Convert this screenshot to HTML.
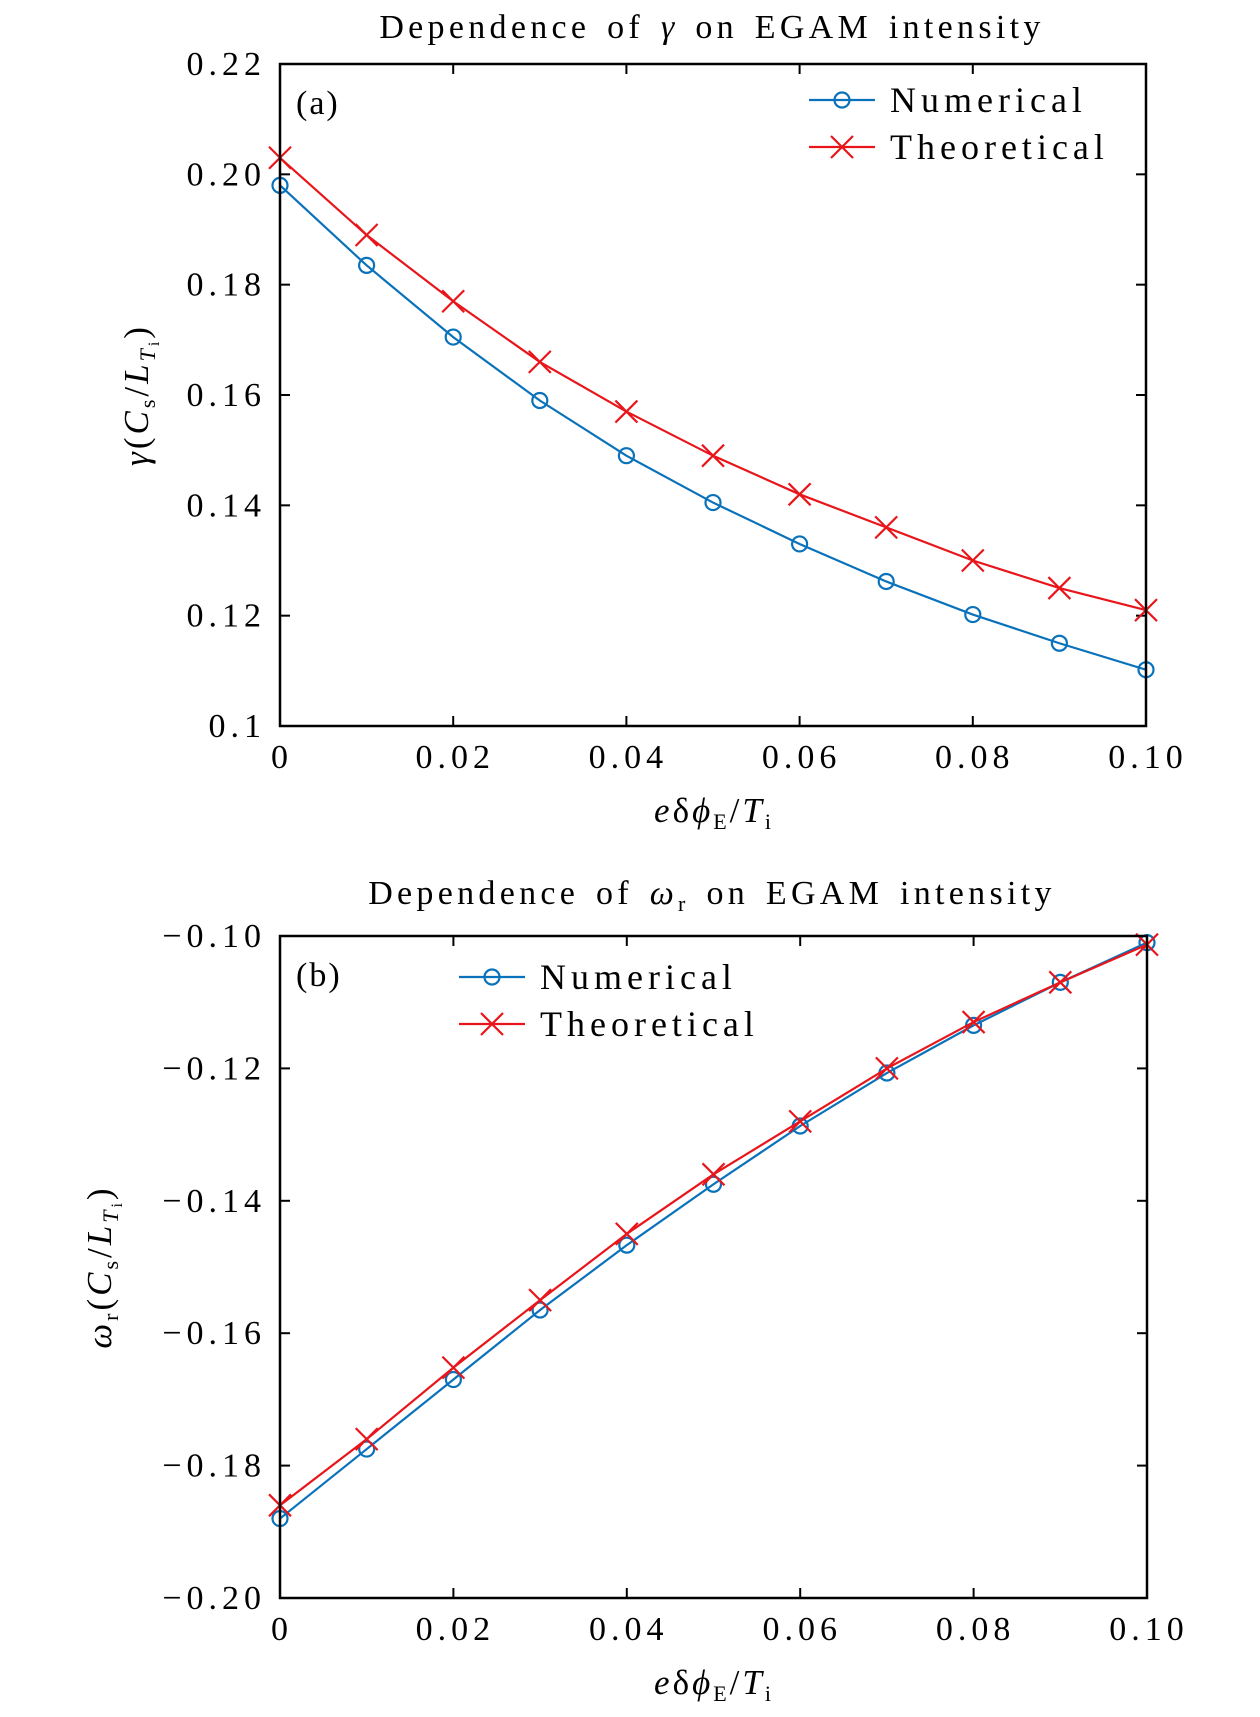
<!DOCTYPE html>
<html><head><meta charset="utf-8"><style>
html,body{margin:0;padding:0;background:#fff}
svg{display:block;font-family:"Liberation Serif","DejaVu Serif",serif}
text{fill:#000}
</style></head><body>
<svg id="fig" width="1260" height="1717" viewBox="0 0 1260 1717" xmlns="http://www.w3.org/2000/svg"></svg>
<script>
const xVals=[0,0.01,0.02,0.03,0.04,0.05,0.06,0.07,0.08,0.09,0.10];
const xTicks=[0,0.02,0.04,0.06,0.08,0.10];
const xTickLabels=["0","0.02","0.04","0.06","0.08","0.10"];
const gammaNum=[0.198,0.1835,0.1705,0.159,0.149,0.1405,0.133,0.1262,0.1202,0.115,0.1102];
const gammaTheo=[0.203,0.189,0.177,0.166,0.157,0.149,0.142,0.136,0.130,0.125,0.121];
const gammaTicks=[0.1,0.12,0.14,0.16,0.18,0.20,0.22];
const gammaTickLabels=["0.1","0.12","0.14","0.16","0.18","0.20","0.22"];
const omegaNum=[-0.188,-0.1775,-0.167,-0.1565,-0.1467,-0.1375,-0.1287,-0.1207,-0.1135,-0.107,-0.101];
const omegaTheo=[-0.186,-0.176,-0.1652,-0.155,-0.145,-0.136,-0.128,-0.120,-0.113,-0.107,-0.1013];
const omegaTicks=[-0.20,-0.18,-0.16,-0.14,-0.12,-0.10];
const omegaTickLabels=["\u22120.20","\u22120.18","\u22120.16","\u22120.14","\u22120.12","\u22120.10"];

const NS="http://www.w3.org/2000/svg";
const svg=document.getElementById('fig');
function mk(tag,attrs,parent,txt){const e=document.createElementNS(NS,tag);for(const k in attrs)e.setAttribute(k,attrs[k]);if(txt!==undefined)e.innerHTML=txt;(parent||svg).appendChild(e);return e;}

function panel(o){
  const g=mk('g',{});
  
  
  const X=v=>o.x0+(v-0)/(0.10-0)*(o.x1-o.x0);
  const Y=v=>o.y1-(v-o.ymin)/(o.ymax-o.ymin)*(o.y1-o.y0);
  const t=mk('text',{x:712,y:o.titleY,'font-size':34,'text-anchor':'middle','letter-spacing':'4.3','word-spacing':'4'},g,o.title);
  
  
  xTicks.forEach((v,i)=>{
    mk('line',{x1:X(v),x2:X(v),y1:o.y1,y2:o.y1-10,stroke:'#000','stroke-width':2},g);
    mk('line',{x1:X(v),x2:X(v),y1:o.y0,y2:o.y0+10,stroke:'#000','stroke-width':2},g);
    const l=mk('text',{x:X(v)+2,y:o.y1+42,'font-size':34,'text-anchor':'middle','letter-spacing':'5'},g,xTickLabels[i]);
    
    
  });
  o.yTicks.forEach((v,i)=>{
    mk('line',{x1:o.x0,x2:o.x0+10,y1:Y(v),y2:Y(v),stroke:'#000','stroke-width':2},g);
    mk('line',{x1:o.x1,x2:o.x1-10,y1:Y(v),y2:Y(v),stroke:'#000','stroke-width':2},g);
    const l=mk('text',{x:o.x0-14,y:Y(v)+11,'font-size':34,'text-anchor':'end','letter-spacing':'5'},g,o.yLabels[i]);
    
    
  });
  const xt=mk('text',{x:714,y:o.y1+96,'font-size':35,'text-anchor':'middle','letter-spacing':'3'},g,'<tspan font-style="italic">e</tspan>δ<tspan font-style="italic">ϕ</tspan><tspan font-size="22" dy="7">E</tspan><tspan dy="-7">/</tspan><tspan font-style="italic">T</tspan><tspan font-size="22" dy="7">i</tspan>');
  
  
  const yt=mk('text',{x:0,y:0,'font-size':35,'text-anchor':'middle','letter-spacing':'3',transform:`translate(${o.ytx},${(o.y0+o.y1)/2}) rotate(-90)`},g,o.ylab);
  
  
  const pl=mk('text',{x:o.x0+16,y:o.y0+50,'font-size':34,'letter-spacing':'2'},g,o.panelLabel);
  
  
  const series=[{vals:o.num,color:'#0a72ba',marker:'o',label:'Numerical'},{vals:o.theo,color:'#e8161b',marker:'x',label:'Theoretical'}];
  series.forEach((s,si)=>{
    const pts=xVals.map((x,i)=>X(x)+','+Y(s.vals[i])).join(' ');
    const line=mk('polyline',{points:pts,fill:'none',stroke:s.color,'stroke-width':2.2},g);
    
    
    xVals.forEach((x,i)=>drawMarker(g,s,X(x),Y(s.vals[i])));
    const ly=o.legY+si*47;
    mk('line',{x1:o.legX,x2:o.legX+66,y1:ly,y2:ly,stroke:s.color,'stroke-width':2.2},g);
    drawMarker(g,s,o.legX+33,ly);
    const lt=mk('text',{x:o.legX+81,y:ly+12,'font-size':36,'letter-spacing':'5'},g,s.label);
    
    
  });
  const fr=mk('rect',{x:o.x0,y:o.y0,width:o.x1-o.x0,height:o.y1-o.y0,fill:'none',stroke:'#000','stroke-width':2.5},g);
  
  
}
function drawMarker(g,s,cx,cy){
  if(s.marker==='o'){
    const c=mk('circle',{cx:cx,cy:cy,r:7.5,fill:'none',stroke:s.color,'stroke-width':2.2},g);
    
    
  }else{
    const p=mk('path',{d:`M${cx-11},${cy-11}L${cx+11},${cy+11}M${cx-11},${cy+11}L${cx+11},${cy-11}`,stroke:s.color,'stroke-width':2.2,fill:'none'},g);
    
    
  }
}
panel({name:'panel-a-gamma',x0:280,x1:1146,y0:64,y1:726,ymin:0.1,ymax:0.22,yTicks:gammaTicks,yLabels:gammaTickLabels,num:gammaNum,theo:gammaTheo,
  title:'Dependence of <tspan font-style="italic">γ</tspan> on EGAM intensity',titleY:38,panelLabel:'(a)',legX:809,legY:100,ytx:148,
  ylab:'<tspan font-style="italic">γ</tspan>(<tspan font-style="italic">C</tspan><tspan font-size="22" dy="7">s</tspan><tspan dy="-7">/</tspan><tspan font-style="italic">L</tspan><tspan font-size="22" font-style="italic" dy="7">T</tspan><tspan font-size="16" dy="4">i</tspan><tspan dy="-11">)</tspan>'});
panel({name:'panel-b-omega',x0:280,x1:1147,y0:936,y1:1598,ymin:-0.20,ymax:-0.10,yTicks:omegaTicks,yLabels:omegaTickLabels,num:omegaNum,theo:omegaTheo,
  title:'Dependence of <tspan font-style="italic">ω</tspan><tspan font-size="22" dy="7">r</tspan><tspan dy="-7"> on EGAM intensity</tspan>',titleY:904,panelLabel:'(b)',legX:459,legY:977,ytx:111,
  ylab:'<tspan font-style="italic">ω</tspan><tspan font-size="22" dy="7">r</tspan><tspan dy="-7">(</tspan><tspan font-style="italic">C</tspan><tspan font-size="22" dy="7">s</tspan><tspan dy="-7">/</tspan><tspan font-style="italic">L</tspan><tspan font-size="22" font-style="italic" dy="7">T</tspan><tspan font-size="16" dy="4">i</tspan><tspan dy="-11">)</tspan>'});
</script>
</body></html>
